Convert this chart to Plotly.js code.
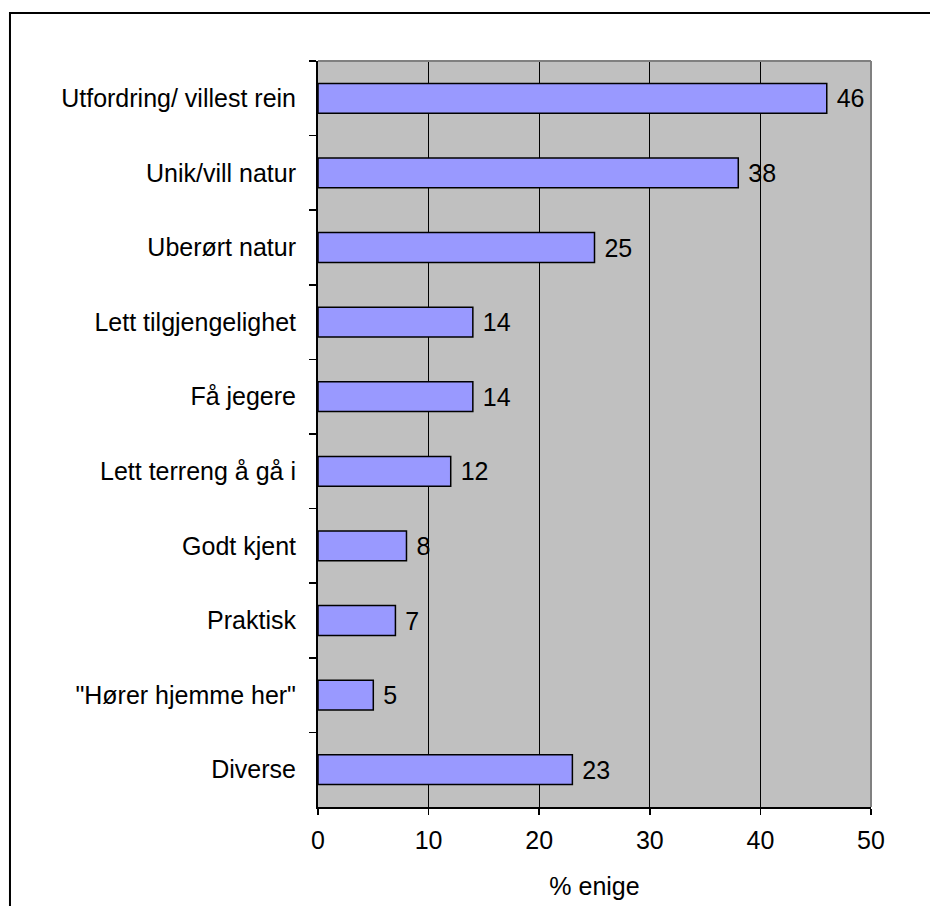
<!DOCTYPE html>
<html>
<head>
<meta charset="utf-8">
<script src="https://cdn.plot.ly/plotly-3.0.1.min.js"></script>
<style>html,body{margin:0;padding:0;background:#fff;}#chart{width:930px;height:906px;}</style>
</head>
<body>
<div id="chart"></div>
<script>
const categories = ["Utfordring/ villest rein", "Unik/vill natur", "Uberørt natur", "Lett tilgjengelighet", "Få jegere", "Lett terreng å gå i", "Godt kjent", "Praktisk", "\"Hører hjemme her\"", "Diverse"];
const values = [46, 38, 25, 14, 14, 12, 8, 7, 5, 23];
const xTicks = [0, 10, 20, 30, 40, 50];
const xTitle = "% enige";

const font = {family: "Liberation Sans, Arial, sans-serif", size: 25, color: "#000"};

const trace = {
  type: "bar",
  orientation: "h",
  y: categories,
  x: values,
  texttemplate: "\u00a0%{x}",
  textposition: "outside",
  textfont: font,
  cliponaxis: false,
  marker: {color: "#9999FF", line: {color: "#000", width: 1.5}},
  hoverinfo: "none"
};

const layout = {
  width: 930, height: 906,
  margin: {l: 318, r: 59, t: 61, b: 99},
  paper_bgcolor: "#fff",
  plot_bgcolor: "#C0C0C0",
  font: font,
  bargap: 0.6,
  showlegend: false,
  uniformtext: {mode: false},
  xaxis: {
    range: [0, 50],
    tickvals: xTicks,
    ticktext: xTicks.map(String),
    showgrid: true, gridcolor: "#000", gridwidth: 1,
    zeroline: false,
    showline: true, linecolor: "#000", linewidth: 2,
    ticks: "outside", ticklen: 6, tickcolor: "#000", tickwidth: 1.5,
    ticklabelstandoff: 4,
    tickfont: font,
    title: {text: xTitle, font: font, standoff: 24}
  },
  yaxis: {
    type: "category",
    categoryorder: "array",
    categoryarray: categories,
    autorange: "reversed",
    showgrid: false,
    zeroline: false,
    showline: true, linecolor: "#000", linewidth: 2,
    ticks: "outside", ticklen: 7, tickcolor: "#000", tickwidth: 1.5,
    tickson: "boundaries",
    ticklabelstandoff: 15,
    tickfont: font
  },
  shapes: [
    {type: "line", xref: "paper", yref: "paper", x0: 0, x1: 1, y0: 1, y1: 1, line: {color: "#808080", width: 2}},
    {type: "line", xref: "paper", yref: "paper", x0: 1, x1: 1, y0: 0, y1: 1, line: {color: "#808080", width: 2}},
    {type: "rect", xref: "paper", yref: "paper", x0: -0.557, x1: 1.12, y0: -0.14, y1: 1.0643, line: {color: "#000", width: 2}, fillcolor: "rgba(0,0,0,0)", layer: "above"}
  ]
};

Plotly.newPlot("chart", [trace], layout, {staticPlot: true, displayModeBar: false});
</script>
</body>
</html>
